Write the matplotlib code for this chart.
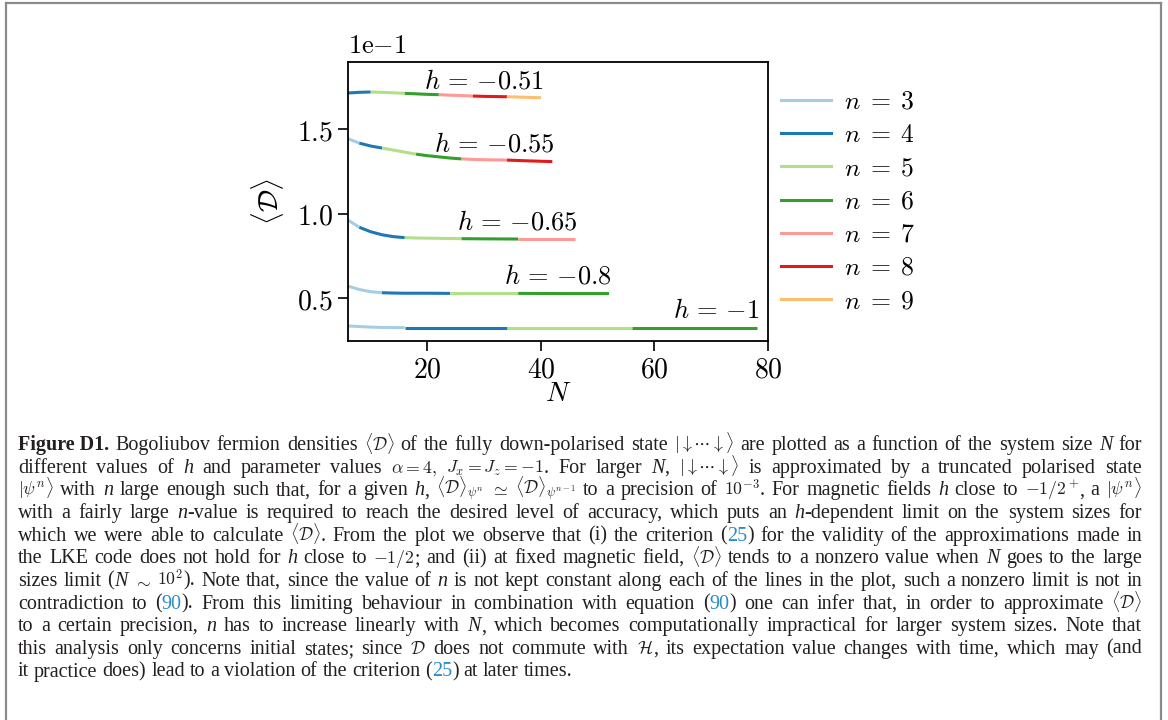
import re
import matplotlib
matplotlib.use("Agg")
import matplotlib.pyplot as plt
from matplotlib.lines import Line2D
from matplotlib.ticker import FuncFormatter, MultipleLocator
from matplotlib.transforms import IdentityTransform

plt.rcParams['mathtext.fontset'] = 'cm'

# Bogoliubov fermion density <D> versus system size N, one curve per field h
H_LABELS = [r"$h\,=\,{-}0.51$", r"$h\,=\,{-}0.55$", r"$h\,=\,{-}0.65$", r"$h\,=\,{-}0.8$", r"$h\,=\,{-}1$"]

N_051 = [6, 8, 10, 12, 14, 16, 18, 20, 22, 24, 26, 28, 30, 32, 34, 36, 38, 40]
D_051 = [0.1713, 0.1717, 0.1719, 0.1717, 0.1714, 0.1711, 0.1708, 0.1705, 0.1703,
         0.1700, 0.1698, 0.1695, 0.1693, 0.1692, 0.1691, 0.1689, 0.1687, 0.1685]
SEG_051 = [(4, 6, 10), (5, 10, 16), (6, 16, 22), (7, 22, 28), (8, 28, 34), (9, 34, 40)]

N_055 = [6, 8, 10, 12, 14, 16, 18, 20, 22, 24, 26, 28, 30, 34, 38, 42]
D_055 = [0.1443, 0.1417, 0.1400, 0.1388, 0.1376, 0.1364, 0.1352, 0.1343, 0.1336,
         0.1329, 0.1324, 0.1321, 0.1319, 0.1317, 0.1312, 0.1308]
SEG_055 = [(3, 6, 8), (4, 8, 12), (5, 12, 18), (6, 18, 26), (7, 26, 34), (8, 34, 42)]

N_065 = [6, 8, 10, 12, 14, 16, 18, 20, 22, 26, 30, 36, 41, 46]
D_065 = [0.0963, 0.0920, 0.0894, 0.0876, 0.0865, 0.0859, 0.0857, 0.0856, 0.0855,
         0.0853, 0.0852, 0.0851, 0.0851, 0.0851]
SEG_065 = [(3, 6, 8), (4, 8, 16), (5, 16, 26), (6, 26, 36), (7, 36, 46)]

N_08 = [6, 8, 10, 12, 14, 16, 20, 24, 30, 36, 44, 52]
D_08 = [0.0573, 0.0553, 0.0540, 0.0534, 0.0532, 0.0531, 0.0531, 0.0530, 0.0530,
        0.0530, 0.0529, 0.0529]
SEG_08 = [(3, 6, 12), (4, 12, 24), (5, 24, 36), (6, 36, 52)]

N_1 = [6, 8, 10, 12, 14, 16, 20, 25, 34, 40, 48, 56, 62, 70, 78]
D_1 = [0.0338, 0.0334, 0.0331, 0.0329, 0.0328, 0.0328, 0.0328, 0.0328, 0.0328,
       0.0328, 0.0328, 0.0328, 0.0328, 0.0328, 0.0328]
SEG_1 = [(3, 6, 16), (4, 16, 34), (5, 34, 56), (6, 56, 78)]

N_VALUES = [3, 4, 5, 6, 7, 8, 9]

CURVES = [(N_051, D_051, SEG_051), (N_055, D_055, SEG_055), (N_065, D_065, SEG_065),
          (N_08, D_08, SEG_08), (N_1, D_1, SEG_1)]

CAPTION = [
    r"**Figure~D1.** Bogoliubov fermion densities $\langle\mathcal{D}\rangle$ of the fully down-polarised state $|{\downarrow}\cdots{\downarrow}\rangle$ are plotted as a function of the system size *N* for",
    r"different values of *h* and parameter values $\alpha=4,$ $J_x=J_z=-1$. For larger *N*, $|{\downarrow}\cdots{\downarrow}\rangle$ is approximated by a truncated polarised state",
    r"$|\psi^n\rangle$ with *n* large enough such that, for a given *h*, $\langle\mathcal{D}\rangle_{\psi^n}$ $\simeq$ $\langle\mathcal{D}\rangle_{\psi^{n-1}}$ to a precision of $10^{-3}$. For magnetic fields *h* close to $-1/2^+$, a $|\psi^n\rangle$",
    r"with a fairly large *n*-value is required to reach the desired level of accuracy, which puts an *h*-dependent limit on the system sizes for",
    r"which we were able to calculate $\langle\mathcal{D}\rangle$. From the plot we observe that (i) the criterion ([25]) for the validity of the approximations made in",
    r"the LKE code does not hold for *h* close to $-1/2$; and (ii) at fixed magnetic field, $\langle\mathcal{D}\rangle$ tends to a nonzero value when *N* goes to the large",
    r"sizes limit (*N* $\sim$ $10^2$). Note that, since the value of *n* is not kept constant along each of the lines in the plot, such a nonzero limit is not in",
    r"contradiction to ([90]). From this limiting behaviour in combination with equation ([90]) one can infer that, in order to approximate $\langle\mathcal{D}\rangle$",
    r"to a certain precision, *n* has to increase linearly with *N*, which becomes computationally impractical for larger system sizes. Note that",
    r"this analysis only concerns initial states; since $\mathcal{D}$ does not commute with $\mathcal{H}$, its expectation value changes with time, which may (and",
    r"it practice does) lead to a violation of the criterion ([25]) at later times.",
]

W, H = 1168, 720
fig = plt.figure(figsize=(W / 100, H / 100), dpi=100)
ax = fig.add_axes([348 / W, 1 - 341 / H, 420 / W, 279 / H])

cmap = plt.get_cmap('Paired')
colors = {n: cmap(i) for i, n in enumerate(N_VALUES)}

for (ns, ds, segs), lab in zip(CURVES, H_LABELS):
    for n, a, b in segs:
        xs = [x for x in ns if a <= x <= b]
        ys = [d for x, d in zip(ns, ds) if a <= x <= b]
        ax.plot(xs, ys, color=colors[n], lw=2.2, solid_capstyle='butt')
    ax.annotate(lab, (ns[-1], ds[-1]), xytext=(2, 7), textcoords='offset points',
                ha='right', va='baseline', fontsize=19)

ax.set_xlim(6, 80)
ax.set_ylim(0.0249, 0.1896)
ax.xaxis.set_major_locator(MultipleLocator(20))
ax.yaxis.set_major_locator(MultipleLocator(0.05))
ax.xaxis.set_major_formatter(FuncFormatter(lambda v, p: f"${v:.0f}$"))
yfmt = FuncFormatter(lambda v, p: f"${v * 10:.1f}$")
yfmt.set_offset_string(r"$1\mathrm{e}{-}1$")
ax.yaxis.set_major_formatter(yfmt)
ax.yaxis.OFFSETTEXTPAD = 6.5
ax.yaxis.get_offset_text().set_fontsize(19)
ax.tick_params(labelsize=20, length=7, width=1.2)
for sp in ax.spines.values():
    sp.set_linewidth(1.3)
ax.set_xlabel(r"$N$", fontsize=20, labelpad=-3)
ax.set_ylabel(r"$\langle\mathcal{D}\rangle$", fontsize=20, labelpad=8)

handles = [Line2D([], [], color=colors[n], lw=2.2) for n in N_VALUES]
ax.legend(handles, [rf"$n\;=\;{n}$" for n in N_VALUES], loc='center left',
          bbox_to_anchor=(1, 0.5), frameon=False, fontsize=18.5, handlelength=1.95,
          handletextpad=0.5, labelspacing=0.28, borderpad=0, borderaxespad=0.5)

# page frame
for xs, ys in [([5.5, 5.5], [0, H - 3]), ([5.5, 1161], [H - 3, H - 3]), ([1161, 1161], [0, H - 3])]:
    fig.add_artist(Line2D(xs, ys, transform=IdentityTransform(), color='#8a8a8a', lw=1.6))

# caption, justified line by line
renderer = fig.canvas.get_renderer()
CAP_SIZE = 14.5
X0, X1 = 18, 1142
Y_FIRST, DY = 450, 22.65
INK, CITE = '#231f20', '#2a8cc4'
pat = r'(\$[^$]*\$|\*\*[^*]+\*\*|\*[^*]+\*|\[[^\]]+\])'
space = fig.text(0, 0, 'a a', family='Liberation Serif', size=CAP_SIZE)
aa = fig.text(0, 0, 'aa', family='Liberation Serif', size=CAP_SIZE)
sp_w = space.get_window_extent(renderer).width - aa.get_window_extent(renderer).width
space.remove()
aa.remove()
for li, line in enumerate(CAPTION):
    y = H - (Y_FIRST + li * DY)
    words = []
    for w in line.split(' '):
        parts = []
        for seg in re.split(pat, w):
            if not seg:
                continue
            kw = dict(family='Liberation Serif', size=CAP_SIZE, color=INK, math_fontfamily='cm')
            if seg.startswith('**'):
                seg = seg[2:-2].replace('~', ' ')
                kw['weight'] = 'bold'
            elif seg.startswith('$'):
                kw['size'] = CAP_SIZE * 0.88
            elif seg.startswith('*'):
                seg = seg[1:-1]
                kw['style'] = 'italic'
            elif seg.startswith('['):
                seg = seg[1:-1]
                kw['color'] = CITE
            t = fig.text(0, 0, seg, transform=IdentityTransform(), va='baseline', **kw)
            parts.append((t, t.get_window_extent(renderer).width))
        words.append(parts)
    total = sum(wd for parts in words for _, wd in parts)
    if li == len(CAPTION) - 1:
        gap = sp_w
    else:
        gap = max((X1 - X0 - total) / (len(words) - 1), 2.5)
    x = X0
    for parts in words:
        for t, wd in parts:
            t.set_position((x, y))
            x += wd
        x += gap

fig.savefig('out.png', dpi=100)
